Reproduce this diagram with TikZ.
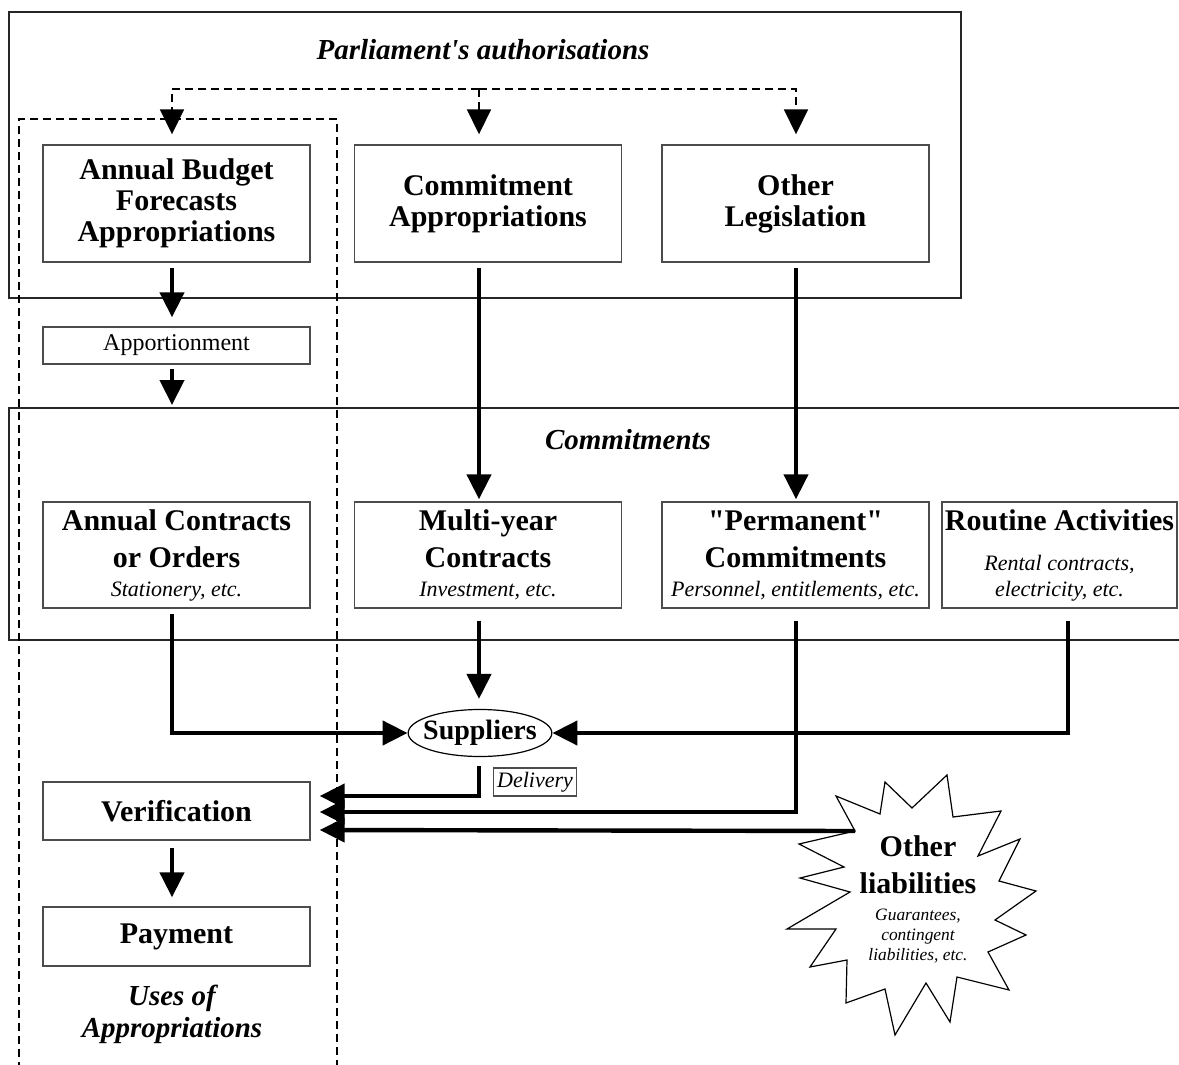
\documentclass[tikz,border=0pt]{standalone}
\usepackage{fontspec}
\setmainfont{Liberation Serif}[Ligatures=TeXOff]
\usetikzlibrary{arrows.meta,shapes.geometric}

\newcommand{\notefont}{\normalfont\itshape\fontsize{11}{13}\selectfont}
\newcommand{\starnote}{\normalfont\itshape\fontsize{8.7}{10}\selectfont}

\begin{document}
\begin{tikzpicture}[x=0.5pt, y=-0.5pt,
    region/.style={draw=black!85, line width=0.6pt},
    regiontitle/.style={align=center, font=\bfseries\itshape\fontsize{14.5}{16}\selectfont},
    box/.style={draw=black!70, line width=0.7pt, align=center, inner sep=0pt,
      minimum width=133.5pt, font=\bfseries\fontsize{15}{15.5}\selectfont},
    topbox/.style={box, minimum height=58.5pt},
    combox/.style={box, minimum height=53pt, font=\bfseries\fontsize{15}{18.5}\selectfont},
    stepbox/.style={box, minimum height=29pt},
    flow/.style={line width=2.2pt, -{Triangle[length=12.5pt,width=12pt]}},
    authflow/.style={line width=0.9pt, dash pattern=on 4pt off 2.5pt,
      -{Triangle[length=12.5pt,width=12pt]}},
    useline/.style={line width=0.9pt, dash pattern=on 4pt off 2.5pt}]

  \useasboundingbox (0,0) rectangle (1179,1065);

  % regions
  \draw[region] (9,12) rectangle (961,298);
  \draw[region] (1185,408) -- (9,408) -- (9,640) -- (1185,640);
  \draw[useline] (19,1070) -- (19,119) -- (337,119) -- (337,1070);
  \node[regiontitle] (authtitle) at (483,50) {Parliament's authorisations};
  \node[regiontitle] (comtitle) at (628,440) {Commitments};
  \node[regiontitle] (usestitle) at (172,1014) {Uses of\\Appropriations};

  % arrow columns
  \coordinate (colA) at (172,0);
  \coordinate (colB) at (479,0);
  \coordinate (colC) at (796,0);
  \coordinate (colD) at (1068,0);
  \coordinate (fork) at (479,89);
  \coordinate (comtop) at (172,405);
  \coordinate (liabin) at (855,831);

  % authorisations
  \node[topbox] (budget) at (176.5,203.5) {Annual Budget\\Forecasts\\Appropriations};
  \node[topbox] (comapp) at (488,203.5) {Commitment\\Appropriations};
  \node[topbox] (otherleg) at (795.5,203.5) {Other\\Legislation};
  \node[box, minimum height=18.5pt, font=\fontsize{12}{14}\selectfont] (apport) at (176.5,345.5) {Apportionment};

  % commitments
  \node[combox] (annual) at (176.5,555) {Annual Contracts\\or Orders\\[-4pt]\notefont Stationery, etc.};
  \node[combox] (multi) at (488,555) {Multi-year\\Contracts\\[-4pt]\notefont Investment, etc.};
  \node[combox] (perm) at (795.5,555) {"Permanent"\\Commitments\\[-4pt]\notefont Personnel, entitlements, etc.};
  \node[combox, minimum width=117.5pt] (routine) at (1059.5,555) {Routine Activities\\[1.5pt]\notefont Rental contracts,\\[-5.5pt]\notefont electricity, etc.};

  % uses
  \node[draw, ellipse, line width=0.6pt, minimum width=71pt, minimum height=23.5pt,
    inner xsep=-3pt, inner ysep=0pt,
    font=\bfseries\fontsize{14}{16}\selectfont] (suppliers) at (480,733) {Suppliers};
  \node[draw=black!70, line width=0.6pt, inner sep=2pt, font=\notefont] (delivery) at (535,782) {Delivery};
  \node[stepbox] (verif) at (176.5,811) {Verification};
  \node[stepbox, minimum height=29.5pt] (payment) at (176.5,936.5) {Payment};

  % other liabilities
  \draw[line width=0.6pt, fill=white] (885,782) -- (912,808) -- (947,775) -- (953,817) -- (1001,811)
    -- (978,856) -- (1020,839) -- (999,881) -- (1036,891) -- (995,920) -- (1026,935) -- (988,952)
    -- (1009,990) -- (957,977) -- (950,1022) -- (926,983) -- (895,1035) -- (885,989) -- (846,1003)
    -- (847,960) -- (810,967) -- (836,929) -- (787,929) -- (850,892) -- (800,878) -- (844,867)
    -- (799,844) -- (855,831) -- (836,796) -- (880,814) -- cycle;
  \node[align=center, inner sep=0pt, font=\bfseries\fontsize{15}{18.5}\selectfont] (liab) at (918,899)
    {Other\\liabilities\\[-5pt]\starnote Guarantees,\\[-8.5pt]\starnote contingent\\[-8.5pt]\starnote liabilities, etc.};

  % flows
  \draw[authflow] (fork) -| ([yshift=5pt]budget.north -| colA);
  \draw[authflow] (fork) -| ([yshift=5pt]otherleg.north -| colC);
  \draw[authflow] (fork) -- ([yshift=5pt]comapp.north -| colB);
  \draw[flow] ([yshift=-2.5pt]budget.south -| colA) -- ([yshift=4.5pt]apport.north -| colA);
  \draw[flow] ([yshift=-2pt]apport.south -| colA) -- (comtop);
  \draw[flow] ([yshift=-2.5pt]comapp.south -| colB) -- ([yshift=1pt]multi.north -| colB);
  \draw[flow] ([yshift=-2.5pt]otherleg.south -| colC) -- ([yshift=1pt]perm.north -| colC);
  \draw[flow] ([yshift=-2.5pt]annual.south -| colA) |- (suppliers.west);
  \draw[flow] ([yshift=-6pt]multi.south -| colB) -- ([yshift=5pt]suppliers.north -| colB);
  \draw[flow] ([yshift=-6pt]routine.south -| colD) |- (suppliers.east);
  \draw[flow] ([yshift=-4.5pt]suppliers.south -| colB) |- ([xshift=4.5pt,yshift=7.5pt]verif.east);
  \draw[flow] ([yshift=-6pt]perm.south -| colC) |- ([xshift=4.5pt,yshift=-0.5pt]verif.east);
  \draw[flow] (liabin) -- ([xshift=4.5pt,yshift=-9.5pt]verif.east);
  \draw[flow] ([yshift=-3.5pt]verif.south -| colA) -- ([yshift=4.5pt]payment.north -| colA);
\end{tikzpicture}
\end{document}
